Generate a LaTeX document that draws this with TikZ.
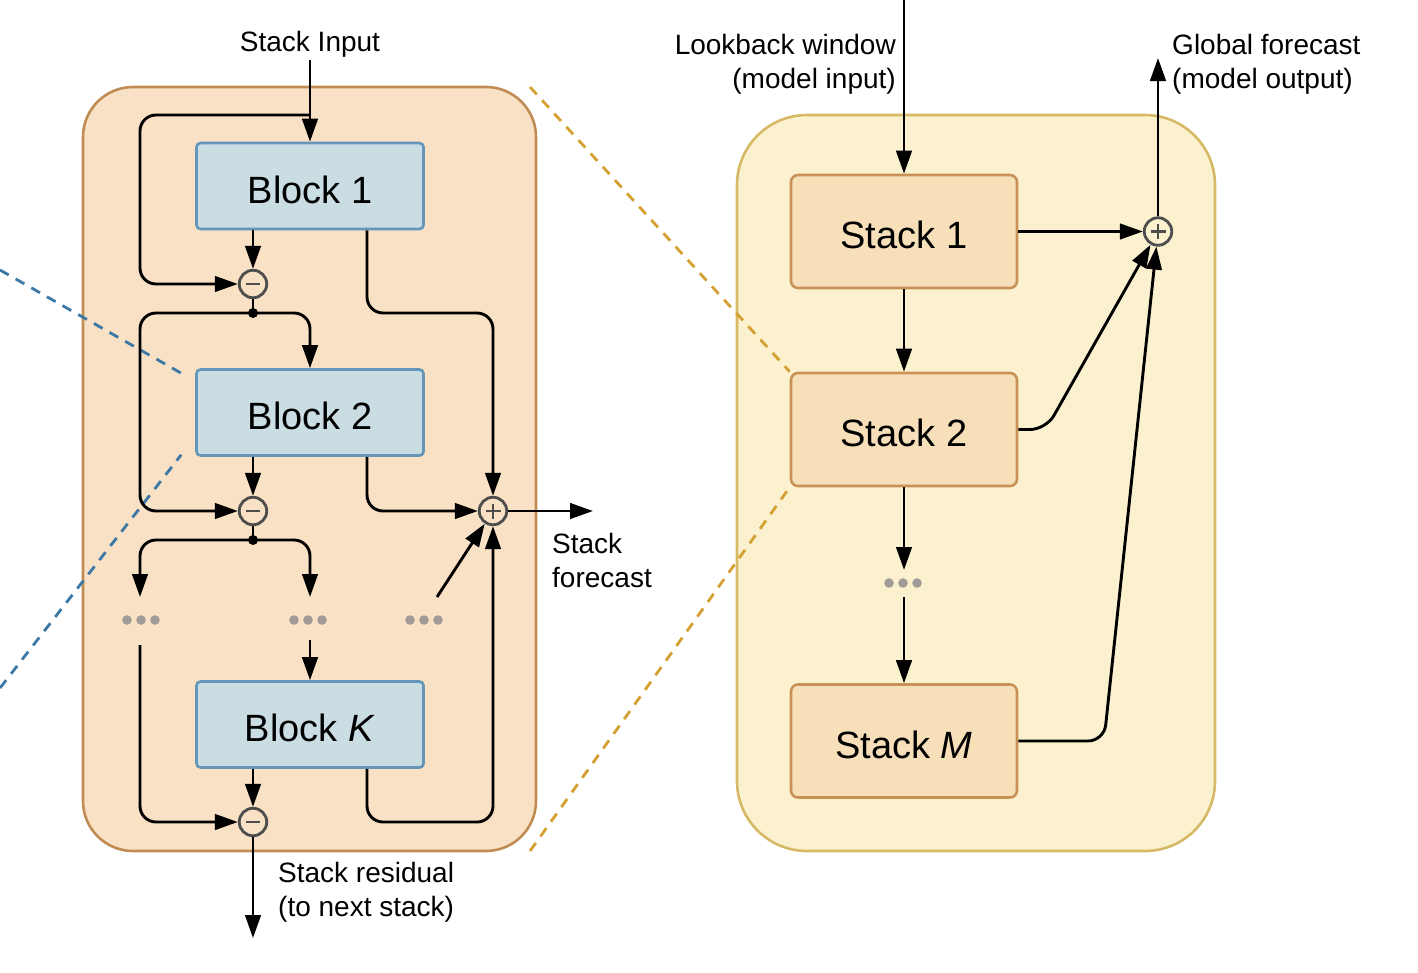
\documentclass[tikz,border=0pt]{standalone}
\usepackage{fontspec}
\setmainfont{Liberation Sans}
\usetikzlibrary{arrows.meta}
\definecolor{lcfill}{HTML}{F8E1C4}
\definecolor{lcline}{HTML}{C08C54}
\definecolor{rcfill}{HTML}{FCF1CF}
\definecolor{rcline}{HTML}{D6B964}
\definecolor{blockfill}{HTML}{C9DDE3}
\definecolor{blockline}{HTML}{6496B9}
\definecolor{stackfill}{HTML}{F7DFBA}
\definecolor{stackline}{HTML}{C89155}
\definecolor{golddash}{HTML}{D4A032}
\definecolor{bluedash}{HTML}{3C78A5}
\definecolor{dotgray}{HTML}{A09B96}
\definecolor{opline}{HTML}{4D4D4D}
\tikzset{
  conn/.style={line width=2.9pt, rounded corners=16pt},
  arr/.style={conn, -{Triangle[length=23pt,width=15.5pt]}},
  lcont/.style={draw=lcline, fill=lcfill, line width=2.6pt, rounded corners=50pt, minimum width=453pt, minimum height=764pt, inner sep=0pt},
  rcont/.style={draw=rcline, fill=rcfill, line width=2.6pt, rounded corners=70pt, minimum width=478pt, minimum height=736pt, inner sep=0pt},
  blk/.style={draw=blockline, fill=blockfill, line width=2.6pt, rounded corners=4pt, minimum width=227pt, minimum height=86pt, inner sep=0pt, font=\fontsize{38}{45}\selectfont, text height=34pt, text depth=0pt},
  stk/.style={draw=stackline, fill=stackfill, line width=2.6pt, rounded corners=7pt, minimum width=226pt, minimum height=113pt, inner sep=0pt, font=\fontsize{38}{45}\selectfont, text height=34pt, text depth=0pt},
  opc/.style={circle, draw=opline, line width=2.8pt, minimum size=27.5pt, inner sep=0pt},
  minusop/.style={opc, path picture={\draw[line width=2.8pt] ([xshift=-7pt]path picture bounding box.center) -- ([xshift=7pt]path picture bounding box.center);}},
  plusop/.style={opc, path picture={\draw[line width=2.6pt] ([xshift=-7.5pt]path picture bounding box.center) -- ([xshift=7.5pt]path picture bounding box.center) ([yshift=-7.5pt]path picture bounding box.center) -- ([yshift=7.5pt]path picture bounding box.center);}},
  ellip/.style={minimum width=38pt, minimum height=11pt, inner sep=0pt, path picture={\foreach \dx in {-14,0,14}{\fill[dotgray] ([xshift=\dx pt]path picture bounding box.center) circle (4.8pt);}}},
  lbl/.style={font=\fontsize{28}{34}\selectfont, inner sep=0pt},
  gdash/.style={draw=golddash, line width=2.8pt, dash pattern=on 10pt off 8pt},
  bdash/.style={draw=bluedash, line width=2.8pt, dash pattern=on 10pt off 8pt},
  junc/.style={circle, fill=black, minimum size=10pt, inner sep=0pt}
}
\begin{document}
\begin{tikzpicture}[x=1pt,y=-1pt]
\path[use as bounding box] (0,0) rectangle (1418,972);
% containers
\node[lcont] (L) at (309.5,469) {};
\node[rcont] (R) at (976,483) {};
% zoom lines
\coordinate (g1a) at (530,87);
\coordinate (g2a) at (530,851);
\coordinate (bl1) at (0,270);
\coordinate (bl2) at (0,688);
% blocks and stacks
\node[blk] (b1) at (310,186) {Block 1};
\node[blk] (b2) at (310,412.5) {Block 2};
\node[blk] (bK) at (310,724.5) {Block \textit{K}};
\node[stk] (s1) at (904,231.5) {Stack 1};
\node[stk] (s2) at (904,429.5) {Stack 2};
\node[stk] (sM) at (904,741) {Stack \textit{M}};
\draw[gdash] (g1a) -- (s2.north west);
\draw[gdash] (g2a) -- (s2.south west);
\draw[bdash] (bl1) -- ([xshift=-14pt,yshift=-5pt]b2.north west);
\draw[bdash] (bl2) -- ([xshift=-14pt,yshift=2pt]b2.south west);
% operators
\node[minusop] (m1) at (253,284) {};
\node[minusop] (m2) at (253,511) {};
\node[minusop] (m3) at (253,822) {};
\node[plusop] (p1) at (493,511) {};
\node[plusop] (ps) at (1158,231.5) {};
\node[junc] (j1) at (253,313) {};
\node[junc] (j2) at (253,540) {};
\node[ellip] (d1) at (141,620) {};
\node[ellip] (d2) at (308,620) {};
\node[ellip] (d3) at (424,620) {};
\node[ellip] (d4) at (903,583) {};
% labels
\node[lbl, anchor=base] (tin) at (310,51) {Stack Input};
\node[lbl, anchor=north east, align=right] (tlb) at (896,34) {Lookback window\\(model input)};
\node[lbl, anchor=north west, align=left] (tgo) at (1172,34) {Global forecast\\(model output)};
\node[lbl, anchor=north west, align=left] (tsf) at (552,533) {Stack\\forecast};
\node[lbl, anchor=north west, align=left] (tsr) at (278,862) {Stack residual\\(to next stack)};
% left connectors
\coordinate (sin) at (310,60);
\coordinate (br1) at (310,115);
\draw[arr] (sin) -- (b1.north);
\draw[arr] (br1) -- (140,115) -- (140,284) -- (m1.west);
\draw[arr] (b1.south -| m1) -- (m1.north);
\draw[arr] ([xshift=57pt]b1.south) -- (367,313) -- (493,313) -- (p1.north);
\draw[conn] (m1.south) -- (j1.center);
\draw[arr] (j1.center) -- (140,313) -- (140,511) -- (m2.west);
\draw[arr] (j1.center) -- (310,313) -- (b2.north);
\draw[arr] (b2.south -| m2) -- (m2.north);
\draw[arr] ([xshift=57pt]b2.south) -- (367,511) -- (p1.west);
\draw[conn] (m2.south) -- (j2.center);
\coordinate (e1) at (140,597);
\coordinate (e2) at (310,597);
\draw[arr] (j2.center) -- (140,540) -- (e1);
\draw[arr] (j2.center) -- (310,540) -- (e2);
\coordinate (s1a) at (140,645);
\coordinate (s2a) at (310,640);
\coordinate (s3a) at (437,597);
\draw[arr] (s1a) -- (140,822) -- (m3.west);
\draw[arr] (s2a) -- (bK.north);
\draw[arr] (s3a) -- (p1);
\draw[arr] (bK.south -| m3) -- (m3.north);
\draw[arr] ([xshift=57pt]bK.south) -- (367,822) -- (493,822) -- (p1.south);
\coordinate (sf) at (593,511);
\coordinate (sr) at (253,938);
\draw[arr] (p1.east) -- (sf);
\draw[arr] (m3.south) -- (sr);
% right connectors
\coordinate (lb) at (904,0);
\coordinate (r1) at (904,570);
\coordinate (r2) at (904,597);
\coordinate (go) at (1158,58);
\draw[arr] (lb) -- (s1.north);
\draw[arr] (s1.east) -- (ps.west);
\draw[arr] (s1.south) -- (s2.north);
\draw[arr] (s2.south) -- (r1);
\draw[arr] (r2) -- (sM.north);
\draw[arr] (s2.east) -- (1046,429.5) -- (ps);
\draw[arr] (sM.east) -- (1104,741) -- (ps);
\draw[arr] (ps.north) -- (go);
\end{tikzpicture}
\end{document}
